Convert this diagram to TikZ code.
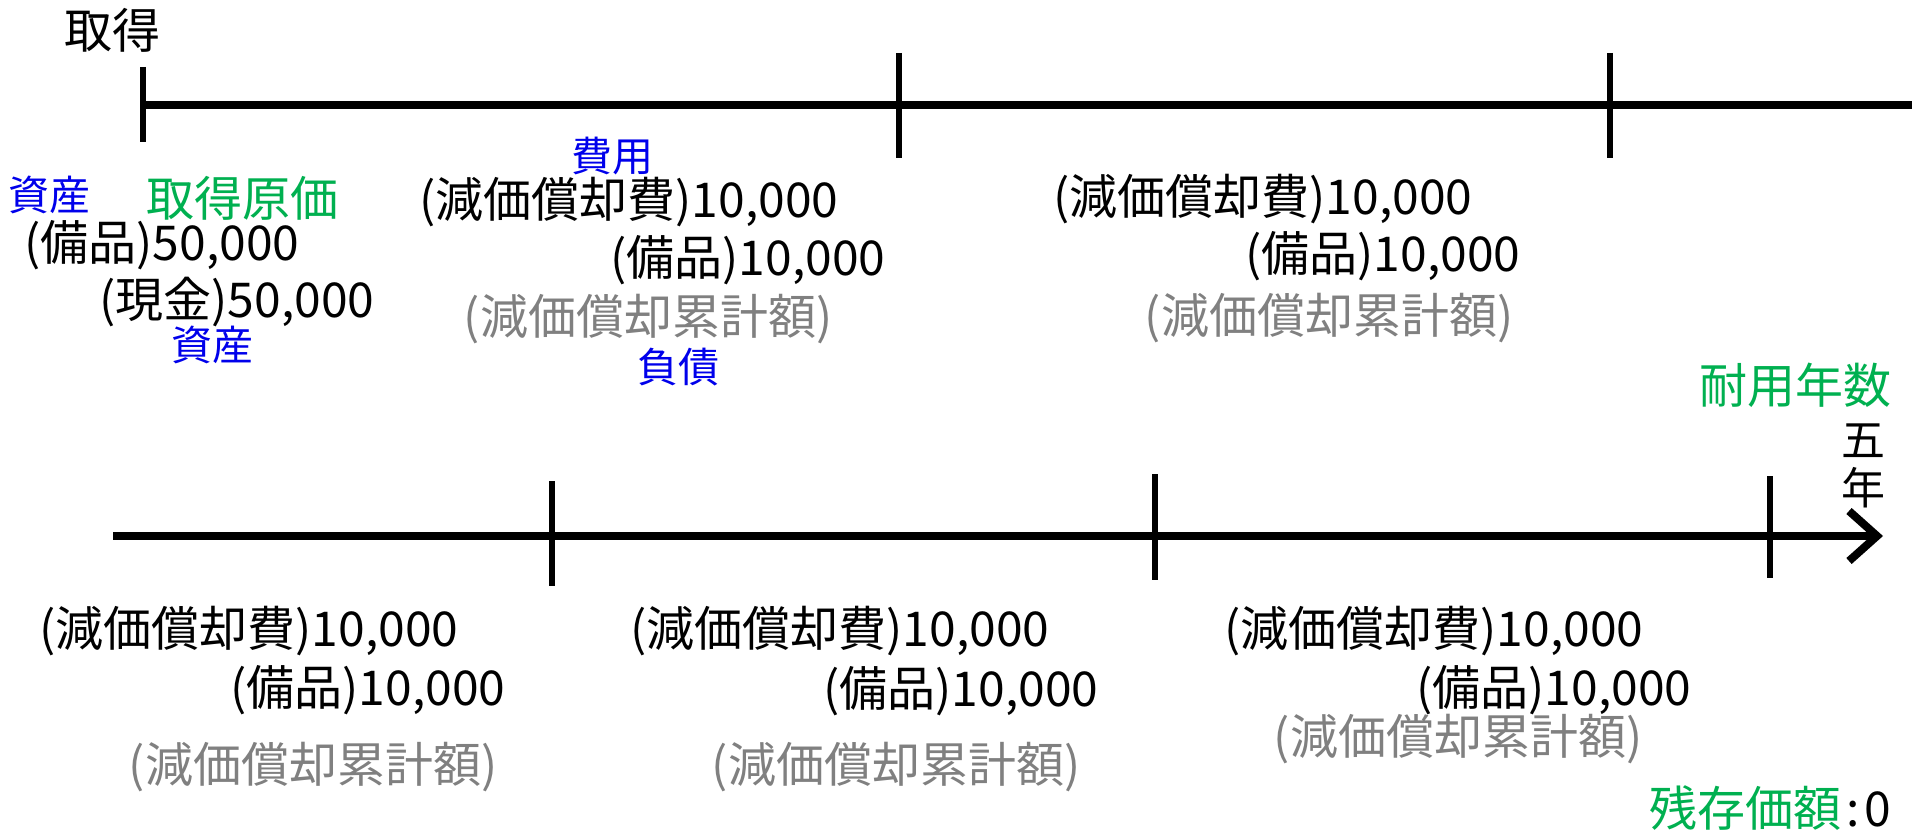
\documentclass[tikz,border=0pt]{standalone}
\usepackage{fontspec}
\setmainfont{Noto Sans CJK JP}
\usetikzlibrary{arrows.meta}
\definecolor{kindblue}{RGB}{0,0,235}
\definecolor{keygreen}{RGB}{0,176,80}
\definecolor{contragray}{RGB}{128,128,128}

\begin{document}
\begin{tikzpicture}[x=1pt, y=-1pt, every node/.style={inner sep=0pt},
		entry/.style={font=\fontsize{48}{50}\selectfont},
		kind/.style={font=\fontsize{41}{44}\selectfont, text=kindblue},
		key/.style={entry, text=keygreen},
		contra/.style={entry, text=contragray},
		axis/.style={line width=8pt},
		tick/.style={line width=6pt}]
			\useasboundingbox (0,0) rectangle (1915,832);
			% Time lines
			\coordinate (topL) at (143,105);
			\coordinate (topR) at (1912,105);
			\coordinate (botL) at (113,536);
			\coordinate (botR) at (1883,536);
			\draw[axis] (topL) -- (topR);
			\draw[axis, -{Straight Barb[length=28pt,width=50pt]}] (botL) -- (botR);
			% Ticks
			\foreach \tx/\ta/\tb in {143/67/142, 899/53/158, 1610/53/158, 552/481/586, 1155/474/580, 1770/476/578}
			{\draw[tick] (\tx,\ta) -- (\tx,\tb);}
			% Acquisition
			\node[entry] (acq) at (112,30) {取得};
			\node[kind] (asset1) at (50,195) {資産};
			\node[key] (cost) at (242,198) {取得原価};
			\node[entry] (dr0) at (162,245) {(備品)50,000};
			\node[entry] (cr0) at (237,302) {(現金)50,000};
			\node[kind] (asset2) at (212,345) {資産};
			% Year 1
			\node[kind] (exp) at (612,156) {費用};
			\node[entry] (dr1) at (629,202) {(減価償却費)10,000};
			\node[entry] (cr1) at (748,260) {(備品)10,000};
			\node[contra] (ac1) at (648,319) {(減価償却累計額)};
			\node[kind] (liab) at (678,367) {負債};
			% Year 2
			\node[entry] (dr2) at (1263,199) {(減価償却費)10,000};
			\node[entry] (cr2) at (1383,256) {(備品)10,000};
			\node[contra] (ac2) at (1329,318) {(減価償却累計額)};
			% Useful life
			\node[key] (life) at (1795,385) {耐用年数};
			\node[font=\fontsize{44}{48}\selectfont, align=center] (five) at (1863,466) {五\\年};
			% Years 3-5
			\node[entry] (dr3) at (249,631) {(減価償却費)10,000};
			\node[entry] (cr3) at (368,690) {(備品)10,000};
			\node[contra] (ac3) at (313,767) {(減価償却累計額)};
			\node[entry] (dr4) at (840,631) {(減価償却費)10,000};
			\node[entry] (cr4) at (961,691) {(備品)10,000};
			\node[contra] (ac4) at (896,767) {(減価償却累計額)};
			\node[entry] (dr5) at (1434,631) {(減価償却費)10,000};
			\node[entry] (cr5) at (1554,690) {(備品)10,000};
			\node[contra] (ac5) at (1458,739) {(減価償却累計額)};
			% Residual value
			\node[entry] (resid) at (1770,808) {\textcolor{keygreen}{残存価額}\hspace{5pt}:\hspace{5pt}0};
		\end{tikzpicture}
\end{document}
